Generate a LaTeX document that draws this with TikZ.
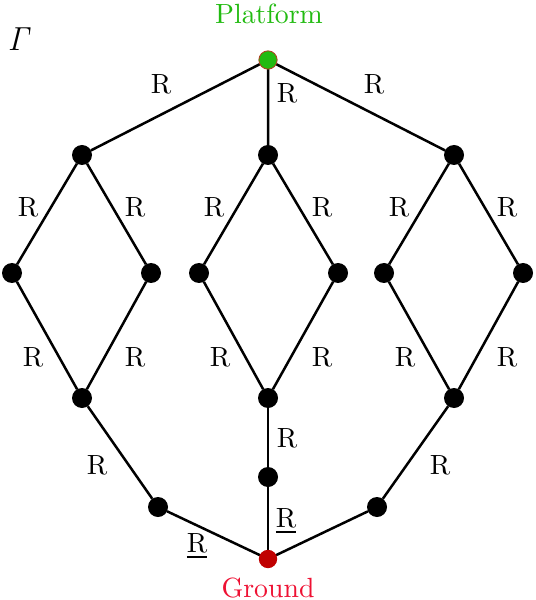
\documentclass[tikz,border=0pt]{standalone}
\usepackage{xcolor}
\definecolor{platgreen}{HTML}{22BB11}
\definecolor{platedge}{HTML}{B04020}
\definecolor{gnddark}{HTML}{C00000}
\definecolor{gndtext}{HTML}{EE1133}
\begin{document}
\begin{tikzpicture}[x=0.36pt,y=-0.36pt,
  vtx/.style={circle,fill=black,inner sep=0pt,minimum size=7.2pt,outer sep=0pt},
  plat/.style={circle,fill=platgreen,draw=platedge,line width=0.3pt,inner sep=0pt,minimum size=6.6pt,outer sep=0pt},
  gnd/.style={circle,fill=gnddark,inner sep=0pt,minimum size=6.6pt,outer sep=0pt},
  lab/.style={inner sep=0pt},
  ulab/.style={inner sep=0pt,anchor=base},
  wire/.style={line width=0.9pt}]
\useasboundingbox (0,0) rectangle (535,600);
% vertices
\coordinate (cP) at (268,60);
\node[vtx] (a1) at (82,155) {};
\node[vtx] (b1) at (268,155) {};
\node[vtx] (c1) at (454,155) {};
\node[vtx] (a2) at (12,273) {};
\node[vtx] (a3) at (151,273) {};
\node[vtx] (b2) at (199,273) {};
\node[vtx] (b3) at (338,273) {};
\node[vtx] (c2) at (384,273) {};
\node[vtx] (c3) at (523,273) {};
\node[vtx] (a4) at (82,398) {};
\node[vtx] (b4) at (268,398) {};
\node[vtx] (c4) at (454,398) {};
\node[vtx] (a5) at (158,507) {};
\node[vtx] (b5) at (268,477) {};
\node[vtx] (c5) at (377,507) {};
\coordinate (cG) at (268,559);
% edges
\begin{scope}[on background layer/.try]
\end{scope}
\draw[wire] (cP) -- (a1) (cP) -- (b1) (cP) -- (c1);
\draw[wire] (a1) -- (a2) -- (a4) -- (a3) -- (a1);
\draw[wire] (b1) -- (b2) -- (b4) -- (b3) -- (b1);
\draw[wire] (c1) -- (c2) -- (c4) -- (c3) -- (c1);
\draw[wire] (a4) -- (a5) -- (cG);
\draw[wire] (b4) -- (b5) -- (cG);
\draw[wire] (c4) -- (c5) -- (cG);
\node[plat] (P) at (cP) {};
\node[gnd] (G) at (cG) {};
% labels
\node[lab,text=platgreen] (tP) at (269,14) {Platform};
\node[lab,text=gndtext] (tG) at (268,588) {Ground};
\node[lab] (gam) at (20,39) {\large$\mathit{\Gamma}$};
\node[lab] (l1) at (161,84) {R};
\node[lab] (l2) at (287,93) {R};
\node[lab] (l3) at (374,84) {R};
\node[lab] (l4) at (28,207) {R};
\node[lab] (l5) at (135,207) {R};
\node[lab] (l6) at (33,357) {R};
\node[lab] (l7) at (135,357) {R};
\node[lab] (l8) at (214,207) {R};
\node[lab] (l9) at (322,207) {R};
\node[lab] (l10) at (220,357) {R};
\node[lab] (l11) at (322,357) {R};
\node[lab] (l12) at (399,207) {R};
\node[lab] (l13) at (507,207) {R};
\node[lab] (l14) at (405,357) {R};
\node[lab] (l15) at (507,357) {R};
\node[lab] (l16) at (97,465) {R};
\node[lab] (l17) at (287,438) {R};
\node[lab] (l18) at (440,465) {R};
\node[ulab] (l19) at (286,527.5) {\underline{R}};
\node[ulab] (l20) at (197,552.5) {\underline{R}};
\end{tikzpicture}
\end{document}
